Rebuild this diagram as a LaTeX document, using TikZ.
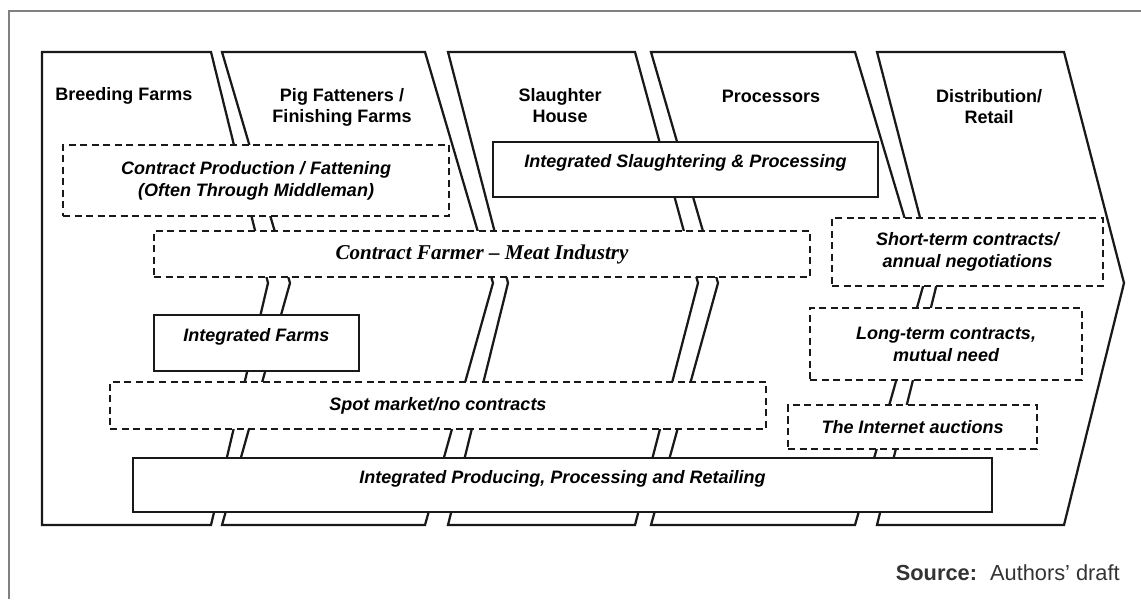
\documentclass[tikz,border=0pt]{standalone}
\usepackage{fontspec}
\setmainfont{Liberation Sans}
\newfontfamily\timesbi[Ligatures=TeX]{Liberation Serif}
\usepackage{tikz}
\usetikzlibrary{positioning, calc}

\begin{document}
\begin{tikzpicture}[x=0.025cm,y=-0.025cm,font=\bfseries]
\tikzset{
  colline/.style={black!90,line width=1.6pt,line join=miter},
  dashbox/.style={draw=black!90,fill=white,line width=1.4pt,dash pattern=on 5pt off 3.2pt,inner sep=0pt,outer sep=0pt,align=center,font=\bfseries\itshape\fontsize{12.8}{15.6}\selectfont},
  solidbox/.style={draw=black!90,fill=white,line width=1.4pt,inner sep=0pt,outer sep=0pt,align=center,text depth=12pt,font=\bfseries\itshape\fontsize{12.8}{15.6}\selectfont},
  headtxt/.style={align=center,font=\bfseries\fontsize{12.8}{15}\selectfont}
}
% helper for one box given its corners
\newcommand{\chainbox}[7]{% args: style, name, x1, y1, x2, y2, text
  \node[#1,minimum width={(#5-#3)*0.025cm},minimum height={(#6-#4)*0.025cm}] (#2) at ({(#3+#5)/2},{(#4+#6)/2}) {#7};
}
\useasboundingbox (0,0) rectangle (1141,599);
% frame
\draw[gray,line width=0.8pt] (9,599) -- (9,11) -- (1141,11);

% ------ the five stages ------
\foreach \tl/\al/\tr/\ar in {42/42/211/268, 222/290/425/493, 448/508/635/698, 651/718/855/924, 877/937/1064/1124}{
  \draw[colline] (\tl,52) -- (\tr,52) -- (\ar,283) -- (\tr,525) -- (\tl,525) -- (\al,283) -- cycle;
}
\node[headtxt] (breed) at (124,96) {Breeding Farms};
\node[headtxt] (fatten) at (342,107) {Pig Fatteners /\\Finishing Farms};
\node[headtxt] (slaughter) at (560,106) {Slaughter\\House};
\node[headtxt] (process) at (771,96) {Processors};
\node[headtxt] (retail) at (989,107) {Distribution/\\Retail};

% ------ forms of coordination ------
\chainbox{dashbox}{contractprod}{63}{145}{449}{216}{Contract Production / Fattening\\(Often Through Middleman)}
\chainbox{solidbox}{intslaughter}{493}{142}{878}{197}{Integrated Slaughtering \& Processing}
\chainbox{dashbox}{contractfarmer}{154}{231}{810}{277}{\timesbi\fontsize{15}{17}\selectfont Contract Farmer \textendash{} Meat Industry}
\chainbox{dashbox}{shortterm}{832}{218}{1103}{286}{Short-term contracts/\\annual negotiations}
\chainbox{solidbox}{intfarms}{154}{315}{359}{371}{Integrated Farms}
\chainbox{dashbox}{longterm}{810}{308}{1082}{380}{Long-term contracts,\\mutual need}
\chainbox{dashbox}{spot}{110}{382}{766}{429}{Spot market/no contracts}
\chainbox{dashbox}{auctions}{788}{405}{1037}{449}{The Internet auctions}
\chainbox{solidbox}{intall}{133}{458}{992}{512}{Integrated Producing, Processing and Retailing}

% source line
\node[anchor=base east,inner sep=0pt,text=black!80,font=\fontsize{15.5}{17}\selectfont] (source) at (1120,580) {\textbf{Source:}\hspace{0.6em}Authors' draft};
\end{tikzpicture}
\end{document}
